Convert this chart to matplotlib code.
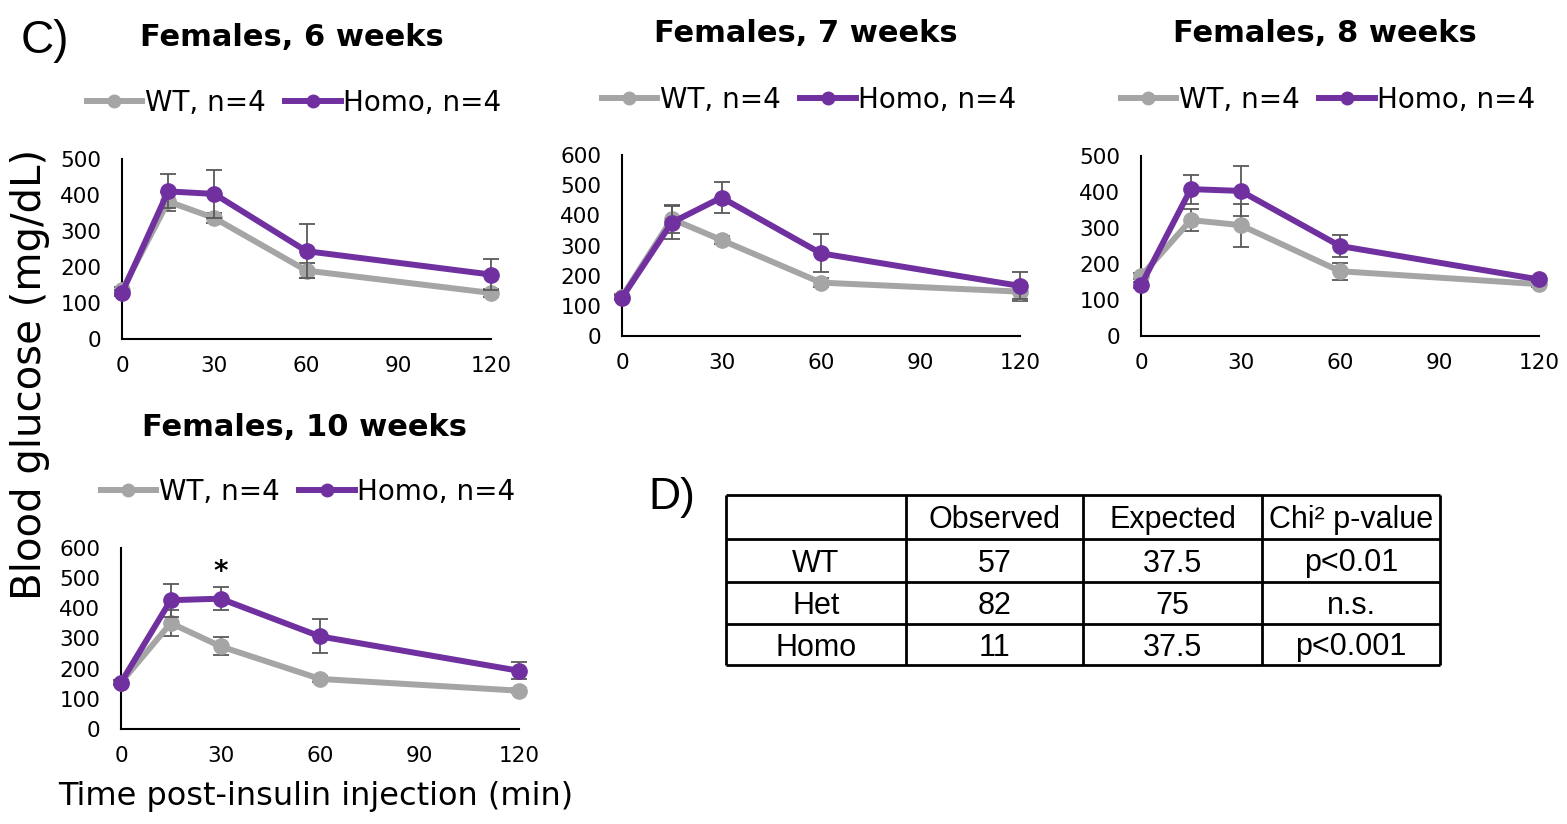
import matplotlib
matplotlib.use('Agg')
import matplotlib.pyplot as plt
from matplotlib.lines import Line2D

# ---------------- data ----------------
times = [0, 15, 30, 60, 120]
xticks = [0, 30, 60, 90, 120]

titles = ["Females, 6 weeks", "Females, 7 weeks", "Females, 8 weeks", "Females, 10 weeks"]
legend_labels = ["WT, n=4", "Homo, n=4"]

wt_6 = [135, 382, 336, 190, 128]
homo_6 = [128, 410, 403, 244, 179]
wt_6_err = [10, 26, 15, 21, 10]
homo_6_err = [8, 47, 67, 75, 42]

wt_7 = [130, 388, 318, 177, 147]
homo_7 = [127, 376, 459, 274, 166]
wt_7_err = [8, 46, 12, 15, 30]
homo_7_err = [8, 55, 50, 63, 45]

wt_8 = [166, 322, 308, 180, 144]
homo_8 = [141, 408, 403, 250, 157]
wt_8_err = [8, 30, 60, 24, 8]
homo_8_err = [8, 40, 70, 30, 8]

wt_10 = [154, 351, 274, 166, 127]
homo_10 = [154, 427, 432, 307, 193]
wt_10_err = [8, 44, 30, 10, 8]
homo_10_err = [8, 55, 38, 56, 28]

ymax_list = [500, 600, 500, 600]

table_cols = ["", "Observed", "Expected", "Chi\u00b2 p-value"]
table_rows = ["WT", "Het", "Homo"]
observed = [57, 82, 11]
expected = [37.5, 75, 37.5]
pvalues = ["p<0.01", "n.s.", "p<0.001"]

# ---------------- style ----------------
W, H = 1567, 824
GRAY = '#A5A5A5'
PURPLE = '#7030A0'
ERR = '#595959'
CHART_FONT = ['DejaVu Sans']
ARIAL = ['Liberation Sans', 'DejaVu Sans']
plt.rcParams['font.family'] = CHART_FONT


def fx(x):
    return x / W


def fy(y):
    return 1 - y / H


fig = plt.figure(figsize=(W / 100, H / 100), dpi=100)
fig.patch.set_facecolor('white')

# layout: (left, top, right, bottom) in pixels, title centre, legend centre
boxes = [(122, 159, 491, 339), (622, 155, 1020, 336),
         (1141, 156, 1539, 336), (121, 548, 519, 729)]
title_pos = [(292, 38), (806, 34), (1325, 34), (305, 427)]
legend_pos = [(294, 103), (809, 100), (1328, 100), (308, 492)]

series = [(wt_6, wt_6_err, homo_6, homo_6_err),
          (wt_7, wt_7_err, homo_7, homo_7_err),
          (wt_8, wt_8_err, homo_8, homo_8_err),
          (wt_10, wt_10_err, homo_10, homo_10_err)]

axes = []
for i, (box, (wt, wte, ho, hoe)) in enumerate(zip(boxes, series)):
    l, t, r, b = box
    ax = fig.add_axes([fx(l), fy(b), (r - l) / W, (b - t) / H])
    axes.append(ax)
    ax.errorbar(times, wt, yerr=wte, fmt='none', ecolor=ERR, elinewidth=1.3,
                capsize=5.5, capthick=1.3, zorder=2, clip_on=False)
    ax.plot(times, wt, color=GRAY, lw=4.3, marker='o', ms=11, zorder=3,
            clip_on=False, solid_joinstyle='round')
    ax.errorbar(times, ho, yerr=hoe, fmt='none', ecolor=ERR, elinewidth=1.3,
                capsize=5.5, capthick=1.3, zorder=4, clip_on=False)
    ax.plot(times, ho, color=PURPLE, lw=4.3, marker='o', ms=11, zorder=5,
            clip_on=False, solid_joinstyle='round')
    ax.set_xlim(0, 120)
    ax.set_ylim(0, ymax_list[i])
    ax.set_xticks(xticks)
    ax.set_yticks(list(range(0, ymax_list[i] + 1, 100)))
    for s in ['top', 'right']:
        ax.spines[s].set_visible(False)
    for s in ['left', 'bottom']:
        ax.spines[s].set_linewidth(1.5)
        ax.spines[s].set_color('black')
    ax.tick_params(axis='both', length=0, labelsize=15.5)
    ax.tick_params(axis='y', pad=15)
    ax.tick_params(axis='x', pad=12)
    ax.set_facecolor('none')

    fig.text(fx(title_pos[i][0]), fy(title_pos[i][1]), titles[i], ha='center',
             va='center', fontsize=22, fontweight='bold')
    handles = [Line2D([], [], color=GRAY, lw=4.3, marker='o', ms=9),
               Line2D([], [], color=PURPLE, lw=4.3, marker='o', ms=9)]
    fig.legend(handles, legend_labels, loc='center',
               bbox_to_anchor=(fx(legend_pos[i][0]), fy(legend_pos[i][1])),
               ncol=2, frameon=False, fontsize=20, handlelength=2.0,
               handletextpad=0.1, columnspacing=0.7, borderpad=0,
               borderaxespad=0)

# significance star on 10-week panel at t=30
axes[3].text(times[2], homo_10[2] + homo_10_err[2] + 50, '*', ha='center',
             va='center', fontsize=20, fontweight='bold')

# shared axis labels and panel letters
fig.text(fx(316), fy(797), 'Time post-insulin injection (min)', ha='center',
         va='center', fontsize=23)
fig.text(fx(30), fy(374), 'Blood glucose (mg/dL)', ha='center', va='center',
         rotation=90, fontsize=29)
fig.text(fx(45), fy(41), 'C)', ha='center', va='center', fontsize=33,
         family=ARIAL)
fig.text(fx(672), fy(497), 'D)', ha='center', va='center', fontsize=32,
         family=ARIAL)

# ---------------- table (drawn as a grid with text) ----------------
col_edges = [726, 906, 1083, 1262, 1440]
row_edges = [495, 539, 582, 624, 665]
tax = fig.add_axes([0, 0, 1, 1])
tax.set_xlim(0, W)
tax.set_ylim(H, 0)
tax.axis('off')
tax.hlines(row_edges, col_edges[0], col_edges[-1], colors='black', lw=2.0)
tax.vlines(col_edges, row_edges[0], row_edges[-1], colors='black', lw=2.0)
cell_text = [table_cols] + [[r, str(o), f"{e:g}", p]
                            for r, o, e, p in zip(table_rows, observed, expected, pvalues)]
for ri, row in enumerate(cell_text):
    cy = (row_edges[ri] + row_edges[ri + 1]) / 2 + 3
    for ci, txt in enumerate(row):
        cx = (col_edges[ci] + col_edges[ci + 1]) / 2
        tax.text(cx, cy, txt, ha='center', va='center', fontsize=22,
                 family=ARIAL)

fig.savefig('out.png', dpi=100, facecolor='white')
